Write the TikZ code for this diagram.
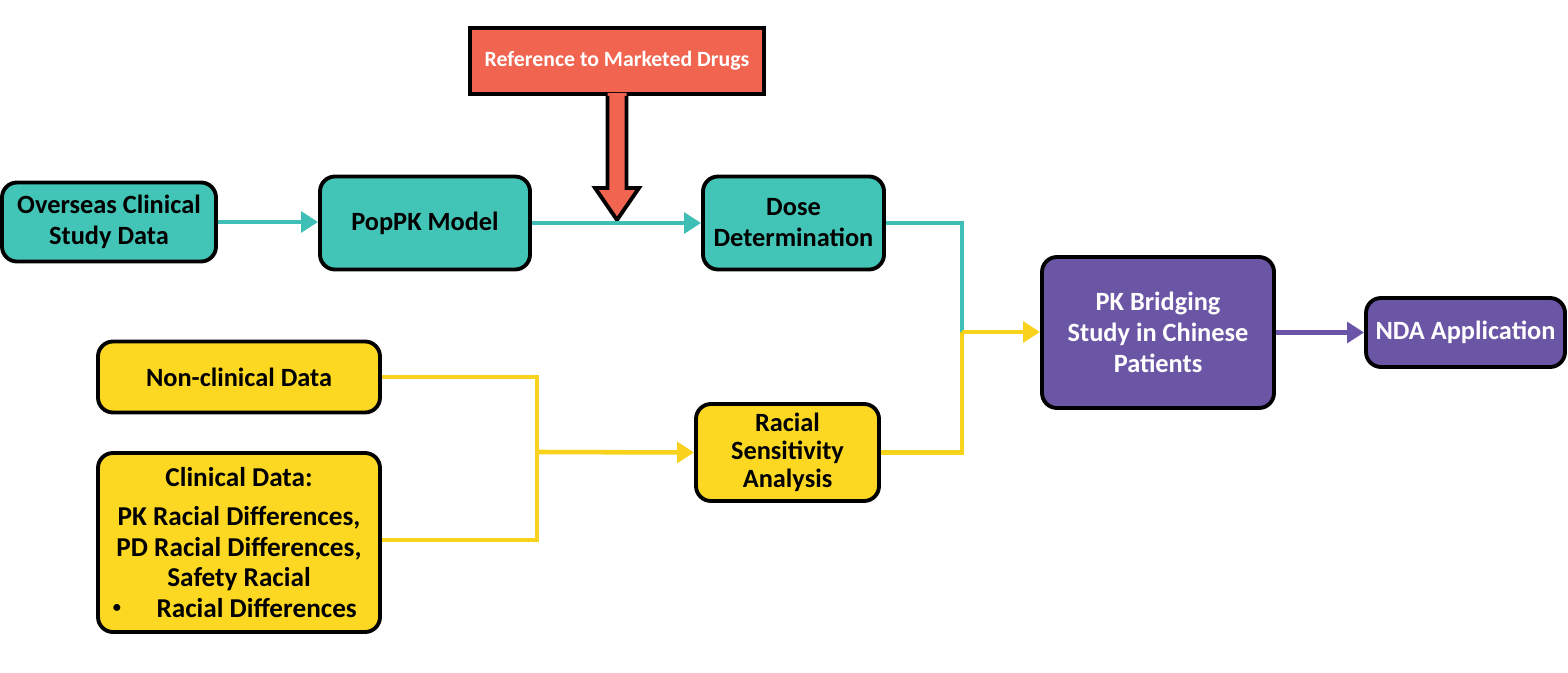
\documentclass[tikz,border=0pt]{standalone}
\usepackage{fontspec}
\usepackage{graphicx}
\setmainfont{Carlito}
\usetikzlibrary{arrows.meta}
\definecolor{tealc}{HTML}{42C4B7}
\definecolor{tealline}{HTML}{3DBFB5}
\definecolor{yellowc}{HTML}{FDD823}
\definecolor{yellowline}{HTML}{F9D21C}
\definecolor{purplec}{HTML}{6B55A5}
\definecolor{purpleline}{HTML}{6A55A8}
\definecolor{redc}{HTML}{F16450}
\tikzset{
  box/.style={draw=black, line width=1.1pt, rounded corners=0.15cm, align=center,
    inner sep=0pt, font=\bfseries\fontsize{7.5}{8.8}\selectfont, text=black},
  tealbox/.style={box, fill=tealc},
  yellowbox/.style={box, fill=yellowc},
  purplebox/.style={box, fill=purplec, text=white},
  conn/.style={line width=1.3pt},
  arr/.style={-{Triangle[length=4.8pt,width=5.8pt]}},
}
\begin{document}
\begin{tikzpicture}
\useasboundingbox (0,0) rectangle (15.68,6.72);
% nodes
\node[tealbox, minimum width=2.14cm, minimum height=0.79cm] (over) at (1.09,4.50) {Overseas Clinical\\Study Data};
\node[tealbox, minimum width=2.10cm, minimum height=0.93cm] (pop) at (4.25,4.49) {PopPK Model};
\node[tealbox, minimum width=1.81cm, minimum height=0.93cm] (dose) at (7.935,4.49) {Dose\\Determination};
\node[draw=black, line width=1.1pt, fill=redc, text=white, inner sep=0pt,
  font=\bfseries\fontsize{6.2}{7.4}\selectfont,
  minimum width=2.94cm, minimum height=0.66cm] (ref) at (6.17,6.11) {Reference to Marketed Drugs};
\node[yellowbox, minimum width=2.82cm, minimum height=0.71cm] (nonc) at (2.39,2.95) {Non-clinical Data};
\node[yellowbox, minimum width=2.82cm, minimum height=1.79cm,
  font=\bfseries\fontsize{7.75}{8.7}\selectfont] (clin) at (2.39,1.295)
  {Clinical Data:\\[2.5pt] PK Racial Differences,\\PD Racial Differences,\\Safety Racial\\
   \raisebox{0.2em}{\scalebox{0.6}{\textbullet}}\hspace{1.3em}Racial Differences\hspace*{0.3em}};
\node[yellowbox, minimum width=1.83cm, minimum height=0.97cm,
  font=\bfseries\fontsize{7.5}{7.9}\selectfont] (racial) at (7.875,2.195) {Racial\\Sensitivity\\Analysis};
\node[purplebox, minimum width=2.32cm, minimum height=1.51cm] (pkb) at (11.58,3.395)
  {PK Bridging\\Study in Chinese\\Patients};
\node[purplebox, minimum width=1.99cm, minimum height=0.69cm] (nda) at (14.655,3.395) {NDA Application};
% red arrow from reference box
\fill[redc] (ref.south) ++(-0.095,0.03) -- ++(0,-0.95) -- ++(-0.125,0) -- ++(0.22,-0.32)
  -- ++(0.22,0.32) -- ++(-0.125,0) -- ++(0,0.95) -- cycle;
\draw[line width=1.1pt, line join=miter] (ref.south) ++(-0.095,0) -- ++(0,-0.92) -- ++(-0.125,0)
  -- ++(0.22,-0.32) coordinate (tip) -- ++(0.22,0.32) -- ++(-0.125,0) -- ++(0,0.92);
% coordinates
\coordinate (jn) at (9.62,3.40);
\coordinate (m) at (5.37,2.20);
% connectors
\draw[conn, tealline, arr] (over.east) -- (over.east -| pop.west);
\draw[conn, tealline, arr] (pop.east) -- (dose.west);
\draw[conn, tealline] (dose.east) -| (jn);
\draw[conn, yellowline] (racial.east) -| (jn);
\draw[conn, yellowline, arr] (jn) -- (jn -| pkb.west);
\draw[conn, yellowline] (nonc.east) -| (m);
\draw[conn, yellowline] ([yshift=0.025cm]clin.east) -| (m);
\draw[conn, yellowline, arr] (m) -- (racial.west);
\draw[conn, purpleline, arr] (pkb.east) -- (nda.west);
\end{tikzpicture}
\end{document}
